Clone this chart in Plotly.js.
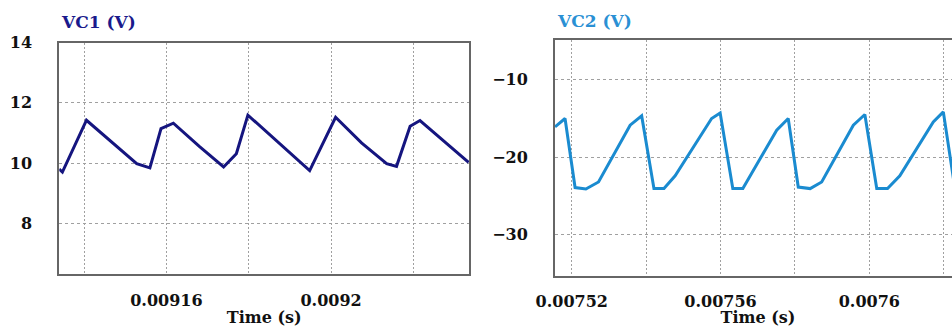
<!DOCTYPE html>
<html>
<head>
<meta charset="utf-8">
<script src="https://cdn.plot.ly/plotly-3.0.1.min.js"></script>
<style>
html,body{margin:0;padding:0;overflow:hidden;background:#fff;}
#chart{width:970px;height:327px;}
</style>
</head>
<body>
<div id="chart"></div>
<script>
// VC1 waveform (time in s, voltage in V)
const vc1Time = [0.00913395, 0.00913475, 0.0091406, 0.0091471, 0.0091528, 0.0091560, 0.0091587, 0.0091617, 0.0091680, 0.0091739, 0.0091770, 0.0091798, 0.0091948, 0.0092011, 0.0092074, 0.0092135, 0.0092159, 0.0092192, 0.0092216, 0.0092334];
const vc1Volt = [9.8, 9.7, 11.42, 10.65, 9.98, 9.84, 11.14, 11.32, 10.55, 9.87, 10.31, 11.59, 9.75, 11.52, 10.67, 9.98, 9.89, 11.22, 11.41, 10.02];

// VC2 waveform (time in s, voltage in V)
const vc2Time = [0.0075155, 0.0075182, 0.0075209, 0.0075238, 0.0075272, 0.0075357, 0.0075388, 0.0075421, 0.0075448, 0.0075478, 0.0075576, 0.0075599, 0.0075633, 0.0075660, 0.0075751, 0.0075782, 0.0075809, 0.0075841, 0.0075872, 0.0075957, 0.0075988, 0.0076020, 0.0076049, 0.0076082, 0.0076172, 0.0076199, 0.0076230, 0.0076260];
const vc2Volt = [-16.08, -15.0, -23.92, -24.1, -23.2, -15.86, -14.66, -24.05, -24.05, -22.4, -15.0, -14.3, -24.05, -24.05, -16.5, -15.0, -23.85, -24.05, -23.2, -15.86, -14.48, -24.05, -24.05, -22.4, -15.43, -14.14, -24.0, -24.05];

const titles = ["VC1 (V)", "VC2 (V)"];
const xTitle = "Time (s)";

const FONT = "DejaVu Serif";
const tickFont = {family: FONT, size: 16, color: "#111", weight: "bold"};
const gridColor = "#a0a0a0";
const frameColor = "#666666";

function xAxis(range, tick0, domain, anchor) {
  return {
    domain: domain, range: range, anchor: anchor,
    tickmode: "linear", tick0: tick0, dtick: 0.00004,
    exponentformat: "none",
    showgrid: true, gridcolor: gridColor, gridwidth: 1, griddash: "2px,2px",
    minor: {tickmode: "linear", tick0: tick0, dtick: 0.00002, showgrid: true, gridcolor: gridColor, gridwidth: 1, griddash: "2px,2px", ticks: ""},
    ticks: "", ticklabelstandoff: 10,
    showline: true, mirror: true, linecolor: frameColor, linewidth: 2,
    zeroline: false, tickfont: tickFont,
    title: {text: xTitle, font: {family: FONT, size: 16, color: "#111", weight: "bold"}, standoff: 6}
  };
}
function yAxis(range, dtick, domain, anchor) {
  return {
    domain: domain, range: range, anchor: anchor,
    tickmode: "linear", tick0: 0, dtick: dtick,
    showgrid: true, gridcolor: gridColor, gridwidth: 1, griddash: "3px,3px",
    ticks: "", ticklabelstandoff: 22,
    showline: true, mirror: true, linecolor: frameColor, linewidth: 2,
    zeroline: false, tickfont: tickFont
  };
}

const W = 970, H = 327, ML = 59, MR = 9, MT = 40, MB = 51;
const PW = W - ML - MR, PH = H - MT - MB;
const px = v => (v - ML) / PW;
const py = v => (H - MB - v) / PH;

const data = [
  {x: vc1Time, y: vc1Volt, xaxis: "x", yaxis: "y", type: "scatter", mode: "lines",
   line: {color: "#15157f", width: 3}, name: titles[0]},
  {x: vc2Time, y: vc2Volt, xaxis: "x2", yaxis: "y2", type: "scatter", mode: "lines",
   line: {color: "#1a8bd0", width: 3}, name: titles[1]}
];

const layout = {
  width: W, height: H,
  margin: {l: ML, r: MR, t: MT, b: MB},
  paper_bgcolor: "#fff", plot_bgcolor: "#fff",
  showlegend: false,
  xaxis: xAxis([0.009134, 0.0092335], 0.00916, [px(59.3), px(469)], "y"),
  yaxis: yAxis([6.307, 14.0], 2, [py(274.3), py(42.5)], "x"),
  xaxis2: xAxis([0.0075155, 0.00762465], 0.00752, [px(555), 1], "y2"),
  yaxis2: yAxis([-35.34, -4.86], 10, [0, 1], "x2"),
  annotations: [
    {text: titles[0], xref: "paper", yref: "paper", x: px(59), y: py(22), xanchor: "left", yanchor: "middle",
     showarrow: false, font: {family: FONT, size: 17, color: "#1a1a8c", weight: "bold"}},
    {text: titles[1], xref: "paper", yref: "paper", x: px(555), y: py(21), xanchor: "left", yanchor: "middle",
     showarrow: false, font: {family: FONT, size: 17, color: "#2a90d4", weight: "bold"}}
  ]
};

Plotly.newPlot("chart", data, layout, {displayModeBar: false, staticPlot: true, responsive: false});
</script>
</body>
</html>
